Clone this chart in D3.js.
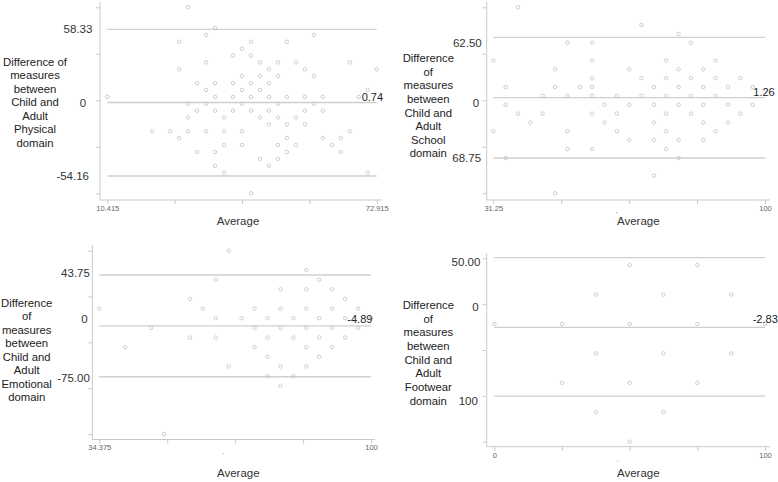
<!DOCTYPE html>
<html><head><meta charset="utf-8">
<script src="https://cdn.jsdelivr.net/npm/d3@7"></script>
<style>
html,body{margin:0;padding:0;background:#fff;}
svg{display:block;font-family:"Liberation Sans",Arial,Helvetica,sans-serif;}
</style></head><body>
<svg id="chart" width="778" height="482"></svg>
<script>
// ---------- Physical domain ----------
const physicalAverage = [
  29.17,
  35.42,
  33.33, 58.33,
  27.08, 43.75, 52.08,
  41.67,
  39.58, 43.75,
  33.33, 45.83, 50.00, 54.17, 66.67,
  27.08, 47.92, 56.25, 72.92,
  41.67, 45.83, 50.00, 58.33,
  31.25, 35.42, 39.58, 43.75, 47.92,
  33.33, 41.67, 45.83, 70.83,
  10.42, 35.42, 39.58, 43.75, 47.92, 52.08, 56.25, 60.42, 68.75,
  29.17, 33.33, 41.67, 50.00, 58.33,
  31.25, 35.42, 39.58, 43.75, 47.92, 56.25, 60.42,
  29.17, 37.50, 45.83, 50.00, 54.17,
  47.92, 52.08, 56.25,
  20.83, 25.00, 29.17, 33.33, 37.50, 41.67, 66.67,
  27.08, 52.08, 60.42, 64.58,
  37.50, 41.67, 50.00, 54.17, 62.50,
  31.25, 35.42, 52.08, 64.58,
  45.83, 50.00,
  35.42, 47.92,
  37.50, 70.83,
  43.75
];
const physicalDifference = [
  58.33,
  45.83,
  41.67, 41.67,
  37.50, 37.50, 37.50,
  33.33,
  29.17, 29.17,
  25.00, 25.00, 25.00, 25.00, 25.00,
  20.83, 20.83, 20.83, 20.83,
  16.67, 16.67, 16.67, 16.67,
  12.50, 12.50, 12.50, 12.50, 12.50,
  8.33, 8.33, 8.33, 8.33,
  4.17, 4.17, 4.17, 4.17, 4.17, 4.17, 4.17, 4.17, 4.17,
  0, 0, 0, 0, 0,
  -4.17, -4.17, -4.17, -4.17, -4.17, -4.17, -4.17,
  -8.33, -8.33, -8.33, -8.33, -8.33,
  -12.50, -12.50, -12.50,
  -16.67, -16.67, -16.67, -16.67, -16.67, -16.67, -16.67,
  -20.83, -20.83, -20.83, -20.83,
  -25.00, -25.00, -25.00, -25.00, -25.00,
  -29.17, -29.17, -29.17, -29.17,
  -33.33, -33.33,
  -37.50, -37.50,
  -41.67, -41.67,
  -54.17
];
const physicalXDomain = [10.415, 72.915];
const physicalYDomain = [-54.17, 58.33];
const physicalLimits = [45.02, 0.74, -43.71];          // upper limit, mean, lower limit
const physicalLimitLabels = ["58.33", "0", "-54.16"];
const physicalMeanLabel = "0.74";
const physicalXTickLabels = ["10.415", "", "", "", "72.915"];
const physicalTitle = ["Difference of", "measures", "between", "Child and", "Adult", "Physical", "domain"];

// ---------- School domain ----------
const schoolAverage = [
  37.50,
  68.75,
  78.13,
  50.00, 56.25, 81.25,
  31.25, 56.25, 75.00, 87.50,
  46.88, 65.63, 78.13, 84.38,
  56.25, 68.75, 75.00, 81.25, 87.50, 93.75,
  34.38, 46.88, 53.13, 56.25, 71.88, 78.13, 84.38, 90.63, 96.88,
  43.75, 50.00, 56.25, 62.50, 68.75, 75.00, 81.25, 87.50,
  34.38, 59.38, 65.63, 71.88, 78.13, 84.38, 90.63, 96.88,
  37.50, 43.75, 56.25, 62.50, 75.00, 81.25, 93.75,
  40.63, 59.38, 71.88, 84.38, 90.63,
  31.25, 50.00, 62.50, 75.00, 87.50,
  65.63, 71.88, 78.13, 84.38,
  50.00, 56.25, 75.00,
  34.38, 78.13,
  71.88,
  46.88
];
const schoolDifference = [
  62.50,
  50.00,
  43.75,
  37.50, 37.50, 37.50,
  25.00, 25.00, 25.00, 25.00,
  18.75, 18.75, 18.75, 18.75,
  12.50, 12.50, 12.50, 12.50, 12.50, 12.50,
  6.25, 6.25, 6.25, 6.25, 6.25, 6.25, 6.25, 6.25, 6.25,
  0, 0, 0, 0, 0, 0, 0, 0,
  -6.25, -6.25, -6.25, -6.25, -6.25, -6.25, -6.25, -6.25,
  -12.50, -12.50, -12.50, -12.50, -12.50, -12.50, -12.50,
  -18.75, -18.75, -18.75, -18.75, -18.75,
  -25.00, -25.00, -25.00, -25.00, -25.00,
  -31.25, -31.25, -31.25, -31.25,
  -37.50, -37.50, -37.50,
  -43.75, -43.75,
  -56.25,
  -68.75
];
const schoolXDomain = [31.25, 100];
const schoolYDomain = [-68.75, 62.5];
const schoolLimits = [41.33, -1.26, -43.85];
const schoolLimitLabels = ["62.50", "0", "68.75"];
const schoolMeanLabel = "1.26";
const schoolXTickLabels = ["31.25", "", "", "", "100"];
const schoolTitle = ["Difference", "of", "measures", "between", "Child and", "Adult", "School", "domain"];

// ---------- Emotional domain ----------
const emotionalAverage = [
  65.63,
  84.38,
  62.50, 87.50,
  78.13, 84.38, 90.63,
  56.25, 93.75,
  34.38, 59.38, 71.88, 78.13, 84.38, 90.63, 96.88,
  62.50, 68.75, 75.00, 81.25, 87.50, 93.75, 100,
  46.88, 71.88, 78.13, 84.38, 90.63, 96.88,
  56.25, 62.50, 75.00, 81.25, 87.50, 93.75,
  40.63, 71.88, 84.38, 90.63,
  75.00, 87.50,
  65.63, 78.13, 84.38,
  75.00, 81.25,
  78.13,
  50.00
];
const emotionalDifference = [
  43.75,
  31.25,
  25.00, 25.00,
  18.75, 18.75, 18.75,
  12.50, 12.50,
  6.25, 6.25, 6.25, 6.25, 6.25, 6.25, 6.25,
  0, 0, 0, 0, 0, 0, 0,
  -6.25, -6.25, -6.25, -6.25, -6.25, -6.25,
  -12.50, -12.50, -12.50, -12.50, -12.50, -12.50,
  -18.75, -18.75, -18.75, -18.75,
  -25.00, -25.00,
  -31.25, -31.25, -31.25,
  -37.50, -37.50,
  -43.75,
  -75.00
];
const emotionalXDomain = [34.375, 100];
const emotionalYDomain = [-75, 43.75];
const emotionalLimits = [28.0, -4.89, -37.9];
const emotionalLimitLabels = ["43.75", "0", "-75.00"];
const emotionalMeanLabel = "-4.89";
const emotionalXTickLabels = ["34.375", "", "", "", "100"];
const emotionalTitle = ["Difference", "of", "measures", "between", "Child and", "Adult", "Emotional", "domain"];

// ---------- Footwear domain ----------
const footwearAverage = [
  50, 75,
  37.5, 62.5, 87.5,
  0, 25, 50, 75, 100,
  37.5, 62.5, 87.5,
  25, 50, 75,
  37.5, 62.5,
  50
];
const footwearDifference = [
  50, 50,
  25, 25, 25,
  0, 0, 0, 0, 0,
  -25, -25, -25,
  -50, -50, -50,
  -75, -75,
  -100
];
const footwearXDomain = [0, 100];
const footwearYDomain = [-100, 55.8];
const footwearLimits = [56.3, -2.83, -61.3];
const footwearLimitLabels = ["50.00", "0", "100"];
const footwearMeanLabel = "-2.83";
const footwearXTickLabels = ["0", "", "", "", "100"];
const footwearTitle = ["Difference", "of", "measures", "between", "Child and", "Adult", "Footwear", "domain"];

// ---------- layout (pixels) ----------
const panels = [
  { avg: physicalAverage, diff: physicalDifference, xDomain: physicalXDomain, yDomain: physicalYDomain,
    limits: physicalLimits, limitLabels: physicalLimitLabels, meanLabel: physicalMeanLabel,
    xTickLabels: physicalXTickLabels, title: physicalTitle,
    xRange: [107.3, 376.7], yRange: [193.3, 7.3], axisX: 100, axisTop: 2, axisY: 200, axisRight: 381.5,
    limitLabelPos: [[78, 29.3], [83, 102.7], [72.7, 176]], meanLabelPos: [361.7, 97.5],
    titlePos: [35, 61.7, 13.5], avgLabelPos: [238, 221], stray: null },
  { avg: schoolAverage, diff: schoolDifference, xDomain: schoolXDomain, yDomain: schoolYDomain,
    limits: schoolLimits, limitLabels: schoolLimitLabels, meanLabel: schoolMeanLabel,
    xTickLabels: schoolXTickLabels, title: schoolTitle,
    xRange: [493.3, 765], yRange: [193.3, 7.3], axisX: 486.7, axisTop: 2, axisY: 200, axisRight: 770,
    limitLabelPos: [[467.3, 42.7], [476, 102.7], [466.7, 158.3]], meanLabelPos: [753.3, 91.7],
    titlePos: [428.3, 58.3, 13.57], avgLabelPos: [638.3, 221], stray: [616.7, 212.7] },
  { avg: emotionalAverage, diff: emotionalDifference, xDomain: emotionalXDomain, yDomain: emotionalYDomain,
    limits: emotionalLimits, limitLabels: emotionalLimitLabels, meanLabel: emotionalMeanLabel,
    xTickLabels: emotionalXTickLabels, title: emotionalTitle,
    xRange: [99.3, 371], yRange: [434, 250.7], axisX: 92.3, axisTop: 245, axisY: 439.5, axisRight: 375,
    limitLabelPos: [[75.5, 272.5], [84.5, 318.5], [73.5, 377.7]], meanLabelPos: [347.3, 319],
    titlePos: [26.7, 302.7, 13.51], avgLabelPos: [238.3, 473], stray: [223.3, 453.5] },
  { avg: footwearAverage, diff: footwearDifference, xDomain: footwearXDomain, yDomain: footwearYDomain,
    limits: footwearLimits, limitLabels: footwearLimitLabels, meanLabel: footwearMeanLabel,
    xTickLabels: footwearXTickLabels, title: footwearTitle,
    xRange: [494.3, 765], yRange: [441.7, 258.3], axisX: 486.7, axisTop: 253, axisY: 446.7, axisRight: 770,
    limitLabelPos: [[466, 261.7], [475.5, 306.5], [468.3, 401]], meanLabelPos: [752.7, 319.3],
    titlePos: [428.3, 305, 13.67], avgLabelPos: [638.3, 473.3], stray: [617.7, 461] }
];

const svg = d3.select("#chart");
const axisColor = "#c9c9c9";

panels.forEach(p => {
  const x = d3.scaleLinear().domain(p.xDomain).range(p.xRange);
  const y = d3.scaleLinear().domain(p.yDomain).range(p.yRange);
  const g = svg.append("g");

  // axis lines
  g.append("line").attr("x1", p.axisX).attr("x2", p.axisX).attr("y1", p.axisTop).attr("y2", p.axisY)
    .attr("stroke", axisColor).attr("stroke-width", 1);
  g.append("line").attr("x1", p.axisX).attr("x2", p.axisRight).attr("y1", p.axisY).attr("y2", p.axisY)
    .attr("stroke", axisColor).attr("stroke-width", 1);

  // y ticks (unlabelled)
  const yTicks = d3.range(5).map(i => p.yDomain[0] + i * (p.yDomain[1] - p.yDomain[0]) / 4);
  const ya = g.append("g").attr("transform", `translate(${p.axisX},0)`)
    .call(d3.axisLeft(y).tickValues(yTicks).tickSize(4).tickSizeOuter(0).tickFormat(""));
  ya.select(".domain").remove();
  ya.selectAll(".tick line").attr("stroke", axisColor);

  // x ticks with end labels
  const xTicks = d3.range(5).map(i => p.xDomain[0] + i * (p.xDomain[1] - p.xDomain[0]) / 4);
  const xa = g.append("g").attr("transform", `translate(0,${p.axisY})`)
    .call(d3.axisBottom(x).tickValues(xTicks).tickSize(4).tickSizeOuter(0)
      .tickFormat((d, i) => p.xTickLabels[i]));
  xa.select(".domain").remove();
  xa.selectAll(".tick line").attr("stroke", axisColor);
  xa.selectAll(".tick text").attr("font-size", 7.5).attr("fill", "#666")
    .attr("font-family", '"Liberation Sans",Arial,sans-serif').attr("y", 5.5);

  // limit / mean lines
  g.selectAll("line.limit").data(p.limits).enter().append("line").attr("class", "limit")
    .attr("x1", p.xRange[0]).attr("x2", p.xRange[1])
    .attr("y1", d => y(d)).attr("y2", d => y(d))
    .attr("stroke", "#cfcfcf").attr("stroke-width", 1.3);

  // points
  g.selectAll("circle.pt").data(p.avg.map((a, i) => [a, p.diff[i]])).enter().append("circle")
    .attr("class", "pt")
    .attr("cx", d => x(d[0])).attr("cy", d => y(d[1])).attr("r", 1.75)
    .attr("fill", "none").attr("stroke", "#c2c2c2").attr("stroke-width", 0.8);

  // small stray mark under the axis (present in the original image)
  if (p.stray) {
    g.append("circle").attr("cx", p.stray[0]).attr("cy", p.stray[1]).attr("r", 0.6).attr("fill", "#999");
  }

  // limit labels on the left
  p.limitLabels.forEach((t, i) => {
    g.append("text").attr("x", p.limitLabelPos[i][0]).attr("y", p.limitLabelPos[i][1]).attr("dy", "0.35em")
      .attr("text-anchor", "middle").attr("font-size", 11.5).attr("fill", "#333").text(t);
  });
  // mean label
  g.append("text").attr("x", p.meanLabelPos[0]).attr("y", p.meanLabelPos[1]).attr("dy", "0.35em")
    .attr("font-size", 11).attr("fill", "#222").text(p.meanLabel);

  // y title
  p.title.forEach((t, i) => {
    g.append("text").attr("x", p.titlePos[0]).attr("y", p.titlePos[1] + i * p.titlePos[2]).attr("dy", "0.35em")
      .attr("text-anchor", "middle").attr("font-size", 11.3).attr("fill", "#222").text(t);
  });

  // x title
  g.append("text").attr("x", p.avgLabelPos[0]).attr("y", p.avgLabelPos[1]).attr("dy", "0.35em")
    .attr("text-anchor", "middle").attr("font-size", 11.5).attr("fill", "#333").text("Average");
});
</script>
</body></html>
